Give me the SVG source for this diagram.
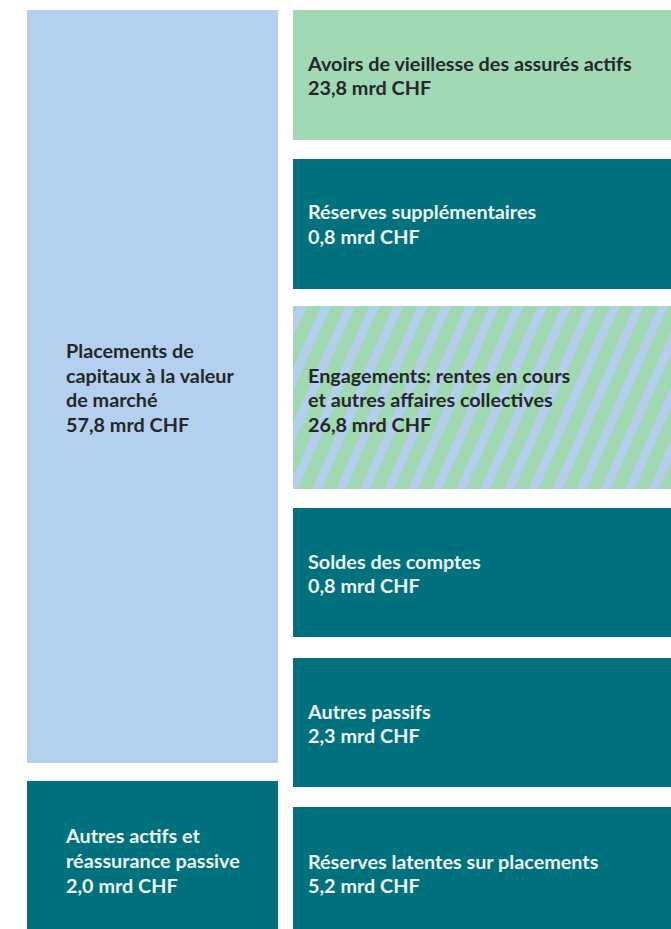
<svg xmlns="http://www.w3.org/2000/svg" width="671" height="929" viewBox="0 0 671 929">
  <style>
    .t { font-family: Lato, "Open Sans", "Liberation Sans", sans-serif; font-weight: 700; font-size: 19.8px; }
    .dark { fill: #232828; }
    .light { fill: #EEF5F5; }
    .blue { fill: #B5D0EE; }
    .green { fill: #A0D9B4; }
    .teal { fill: #00717D; }
  </style>
  <defs>
    <!-- diagonal blue stripes over green -->
    <pattern id="hatch" patternUnits="userSpaceOnUse" width="22" height="22" patternTransform="rotate(24)">
      <rect width="22" height="22" fill="#A0D9B4"/>
      <rect width="8.5" height="22" fill="#B5D0EE"/>
    </pattern>
  </defs>
  <rect width="671" height="929" fill="#FFFFFF"/>

  <!-- assets (left column) -->
  <g id="placements">
    <rect class="blue" x="27" y="10" width="251" height="753"/>
    <text class="t dark" x="66" y="358">Placements de</text>
    <text class="t dark" x="66" y="383">capitaux à la valeur</text>
    <text class="t dark" x="66" y="407">de marché</text>
    <text class="t dark" x="66" y="432">57,8 mrd CHF</text>
  </g>
  <g id="autres-actifs">
    <rect class="teal" x="27" y="781" width="251" height="148"/>
    <text class="t light" x="66" y="843">Autres actifs et</text>
    <text class="t light" x="66" y="868">réassurance passive</text>
    <text class="t light" x="66" y="893">2,0 mrd CHF</text>
  </g>

  <!-- liabilities (right column) -->
  <g id="avoirs">
    <rect class="green" x="293" y="10" width="378" height="130"/>
    <text class="t dark" x="308" y="71">Avoirs de vieillesse des assurés actifs</text>
    <text class="t dark" x="308" y="95">23,8 mrd CHF</text>
  </g>
  <g id="reserves-supp">
    <rect class="teal" x="293" y="159" width="378" height="130"/>
    <text class="t light" x="308" y="219">Réserves supplémentaires</text>
    <text class="t light" x="308" y="244">0,8 mrd CHF</text>
  </g>
  <g id="engagements">
    <rect x="293" y="306" width="378" height="183" fill="url(#hatch)"/>
    <text class="t dark" x="308" y="383">Engagements: rentes en cours</text>
    <text class="t dark" x="308" y="407">et autres affaires collectives</text>
    <text class="t dark" x="308" y="432">26,8 mrd CHF</text>
  </g>
  <g id="soldes">
    <rect class="teal" x="293" y="508" width="378" height="129"/>
    <text class="t light" x="308" y="569">Soldes des comptes</text>
    <text class="t light" x="308" y="593">0,8 mrd CHF</text>
  </g>
  <g id="autres-passifs">
    <rect class="teal" x="293" y="658" width="378" height="129"/>
    <text class="t light" x="308" y="719">Autres passifs</text>
    <text class="t light" x="308" y="743">2,3 mrd CHF</text>
  </g>
  <g id="reserves-latentes">
    <rect class="teal" x="293" y="807" width="378" height="122"/>
    <text class="t light" x="308" y="869">Réserves latentes sur placements</text>
    <text class="t light" x="308" y="893">5,2 mrd CHF</text>
  </g>

  <g id="connectors"/>
</svg>
